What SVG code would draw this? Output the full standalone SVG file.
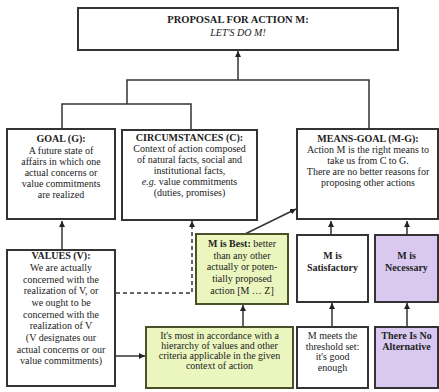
<svg xmlns="http://www.w3.org/2000/svg" width="439" height="392" viewBox="0 0 439 392">
<style>
text{font-family:"Liberation Serif","Times New Roman",serif;font-size:10px;fill:#222;text-anchor:middle}
.b{font-weight:bold}
.i{font-style:italic}
.box{fill:#fff;stroke:#333;stroke-width:2}
.green{fill:#ebf6bf;stroke:#4a5028;stroke-width:2}
.purple{fill:#d9c9f0;stroke:#333;stroke-width:2}
.ln{fill:none;stroke:#333;stroke-width:1.5}
.dash{fill:none;stroke:#333;stroke-width:1.5;stroke-dasharray:4,3}
</style>
<defs>
<marker id="ah" viewBox="0 0 10 10" refX="10" refY="5" markerWidth="6" markerHeight="6" orient="auto" markerUnits="userSpaceOnUse">
<path d="M0,0 L10,5 L0,10 z" fill="#222"/>
</marker>
</defs>
<rect width="439" height="392" fill="#fff"/>
<g id="connectors">
<path class="ln" d="M238,80 V51" marker-end="url(#ah)"/>
<path class="ln" d="M127,104 V80 H369 V128"/>
<path class="ln" d="M62,128 V104 H191 V129"/>
<path class="ln" d="M62,249 V221" marker-end="url(#ah)"/>
<path class="dash" d="M116,293 H192 V221" marker-end="url(#ah)"/>
<path class="ln" d="M116,356 H145" marker-end="url(#ah)"/>
<path class="ln" d="M243,326 V305" marker-end="url(#ah)"/>
<path class="ln" d="M245,234 L296,209" marker-end="url(#ah)"/>
<path class="ln" d="M332,326 V303" marker-end="url(#ah)"/>
<path class="ln" d="M407,326 V303" marker-end="url(#ah)"/>
<path class="ln" d="M331,234 V221" marker-end="url(#ah)"/>
<path class="ln" d="M407,234 V221" marker-end="url(#ah)"/>
</g>
<g id="proposal">
<rect class="box" x="78" y="8" width="320" height="42"/>
<text class="b" x="238" y="23" style="font-size:10.5px">PROPOSAL FOR ACTION M:</text>
<text class="i" x="238" y="36">LET'S DO M!</text>
</g>
<g id="goal">
<rect class="box" x="7" y="129" width="108" height="90"/>
<text class="b" x="61" y="142">GOAL (G):</text>
<text x="61" y="154">A future state of</text>
<text x="61" y="165">affairs in which one</text>
<text x="61" y="176">actual concerns or</text>
<text x="61" y="187">value commitments</text>
<text x="61" y="198">are realized</text>
</g>
<g id="circumstances">
<rect class="box" x="122" y="130" width="135" height="90"/>
<text class="b" x="189.5" y="141">CIRCUMSTANCES (C):</text>
<text x="189.5" y="152">Context of action composed</text>
<text x="189.5" y="163">of natural facts, social and</text>
<text x="189.5" y="174">institutional facts,</text>
<text x="189.5" y="185"><tspan class="i">e.g.</tspan> value commitments</text>
<text x="189.5" y="196">(duties, promises)</text>
</g>
<g id="means-goal">
<rect class="box" x="297" y="129" width="141" height="90"/>
<text class="b" x="368" y="142">MEANS-GOAL (M-G):</text>
<text x="368" y="153">Action M is the right means to</text>
<text x="368" y="164">take us from C to G.</text>
<text x="368" y="175">There are no better reasons for</text>
<text x="368" y="186">proposing other actions</text>
</g>
<g id="values">
<rect class="box" x="7" y="250" width="108" height="136"/>
<text class="b" x="61" y="259">VALUES (V):</text>
<text x="61" y="271">We are actually</text>
<text x="61" y="283">concerned with the</text>
<text x="61" y="294">realization of V, or</text>
<text x="61" y="306">we ought to be</text>
<text x="61" y="318">concerned with the</text>
<text x="61" y="329">realization of V</text>
<text x="61" y="341">(V designates our</text>
<text x="61" y="353">actual concerns or our</text>
<text x="61" y="364">value commitments)</text>
</g>
<g id="best">
<rect class="green" x="196" y="234" width="92" height="70"/>
<text x="242" y="247"><tspan class="b">M is Best:</tspan> better</text>
<text x="242" y="259">than any other</text>
<text x="242" y="270">actually or poten-</text>
<text x="242" y="282">tially proposed</text>
<text x="242" y="294">action [M … Z]</text>
</g>
<g id="hierarchy">
<rect class="green" x="146" y="327" width="147" height="61"/>
<text x="219.5" y="339">It's most in accordance with a</text>
<text x="219.5" y="349">hierarchy of values and other</text>
<text x="219.5" y="359">criteria applicable in the given</text>
<text x="219.5" y="369">context of action</text>
</g>
<g id="satisfactory">
<rect class="box" x="297" y="235" width="71" height="67"/>
<text class="b" x="332.5" y="259">M is</text>
<text class="b" x="332.5" y="271">Satisfactory</text>
</g>
<g id="threshold">
<rect class="box" x="297" y="327" width="71" height="61"/>
<text x="332.5" y="339">M meets the</text>
<text x="332.5" y="350">threshold set:</text>
<text x="332.5" y="360">it's good</text>
<text x="332.5" y="371">enough</text>
</g>
<g id="necessary">
<rect class="purple" x="375" y="235" width="63" height="67"/>
<text class="b" x="406.5" y="259">M is</text>
<text class="b" x="406.5" y="271">Necessary</text>
</g>
<g id="no-alternative">
<rect class="purple" x="375" y="327" width="63" height="61"/>
<text class="b" x="406.5" y="339">There Is No</text>
<text class="b" x="406.5" y="350">Alternative</text>
</g>
</svg>
